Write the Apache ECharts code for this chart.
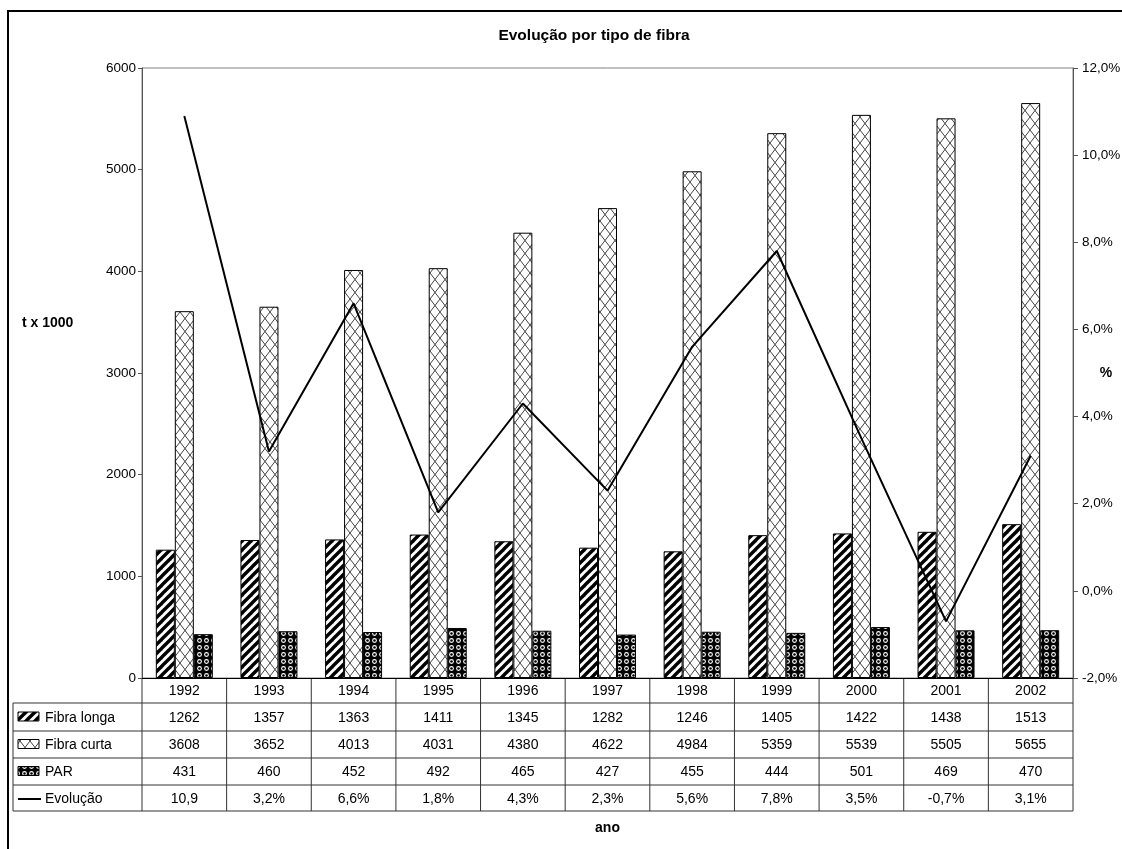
<!DOCTYPE html>
<html><head><meta charset="utf-8">
<script src="https://cdn.jsdelivr.net/npm/echarts@6/dist/echarts.min.js"></script>
<style>html,body{margin:0;padding:0;background:#fff}#c{width:1122px;height:849px}</style>
</head><body><div id="c"></div>
<script>
const years = ['1992','1993','1994','1995','1996','1997','1998','1999','2000','2001','2002'];
const fibraLonga = [1262,1357,1363,1411,1345,1282,1246,1405,1422,1438,1513];
const fibraCurta = [3608,3652,4013,4031,4380,4622,4984,5359,5539,5505,5655];
const par = [431,460,452,492,465,427,455,444,501,469,470];
const evolucao = [10.9,3.2,6.6,1.8,4.3,2.3,5.6,7.8,3.5,-0.7,3.1];
const evolucaoLabels = ['10,9','3,2%','6,6%','1,8%','4,3%','2,3%','5,6%','7,8%','3,5%','-0,7%','3,1%'];
const seriesNames = ['Fibra longa','Fibra curta','PAR','Evolução'];

const FONT = '"Liberation Sans", Arial, sans-serif';
const FS = 14;
const AFS = 13.5;

function mk(w,h){const c=document.createElement('canvas');c.width=w;c.height=h;return c;}
function stripes(){
  const c=mk(9,9),x=c.getContext('2d');
  x.fillStyle='#fff';x.fillRect(0,0,9,9);
  x.strokeStyle='#000';x.lineWidth=3.4;x.lineCap='square';
  [-9,0,9].forEach(o=>{x.beginPath();x.moveTo(o,9);x.lineTo(o+9,0);x.stroke();});
  return c;
}
function cross(){
  const c=mk(10,13),x=c.getContext('2d');
  x.fillStyle='#fff';x.fillRect(0,0,10,13);
  x.strokeStyle='#444';x.lineWidth=1;
  x.beginPath();x.moveTo(0,0);x.lineTo(10,13);x.moveTo(10,0);x.lineTo(0,13);x.stroke();
  return c;
}
function dots(){
  const c=mk(7,7),x=c.getContext('2d');
  x.fillStyle='#000';x.fillRect(0,0,7,7);
  x.fillStyle='#fff';x.beginPath();x.arc(3.5,3.5,2.4,0,Math.PI*2);x.fill();
  x.fillStyle='#000';x.beginPath();x.arc(3.5,3.5,1.3,0,Math.PI*2);x.fill();
  return c;
}
const patLonga={image:stripes(),repeat:'repeat'};
const patCurta={image:cross(),repeat:'repeat'};
const patPar={image:dots(),repeat:'repeat'};

const G={left:142,right:49,top:68,bottom:171};
const chart=echarts.init(document.getElementById('c'),null,{renderer:'canvas'});

const barItem=(p)=>({color:p,borderColor:'#000',borderWidth:1});
chart.setOption({
  animation:false,
  backgroundColor:'#fff',
  textStyle:{fontFamily:FONT},
  grid:{left:G.left,right:G.right,top:G.top,bottom:G.bottom,outerBoundsMode:'none',containLabel:false,show:true,borderColor:'#808080',borderWidth:1,backgroundColor:'transparent'},
  xAxis:{type:'category',data:years,axisLine:{lineStyle:{color:'#000',width:1}},axisTick:{show:false},
    axisLabel:{color:'#000',fontSize:FS,fontFamily:FONT,margin:6},splitLine:{show:false}},
  yAxis:[
    {type:'value',min:0,max:6000,interval:1000,splitLine:{show:false},
     axisLine:{show:true,lineStyle:{color:'#555'}},axisTick:{show:true,length:4,lineStyle:{color:'#555'}},
     axisLabel:{color:'#000',fontSize:AFS,fontFamily:FONT,margin:6,formatter:v=>String(v)}},
    {type:'value',min:-2,max:12,interval:2,position:'right',splitLine:{show:false},
     axisLine:{show:true,lineStyle:{color:'#555'}},axisTick:{show:true,length:5,lineStyle:{color:'#555'}},
     axisLabel:{color:'#000',fontSize:AFS,fontFamily:FONT,margin:9,formatter:v=>v.toFixed(1).replace('.',',')+'%'}}
  ],
  series:[
    {name:seriesNames[0],type:'bar',data:fibraLonga,barWidth:19,barGap:'0%',itemStyle:barItem(patLonga)},
    {name:seriesNames[1],type:'bar',data:fibraCurta,barWidth:19,barGap:'0%',itemStyle:barItem(patCurta)},
    {name:seriesNames[2],type:'bar',data:par,barWidth:19,barGap:'0%',itemStyle:barItem(patPar)},
    {name:seriesNames[3],type:'line',yAxisIndex:1,data:evolucao,symbol:'none',lineStyle:{color:'#000',width:2},z:5}
  ]
});

// Data table built from the arrays, positioned via the axis scale
const rect=chart.getModel().getComponent('grid',0).coordinateSystem.getRect();
const plotL=rect.x, plotR=rect.x+rect.width, axisY=rect.y+rect.height;
const rowTops=[703,731,758,785,811];
const tableL=13;
const cw=(plotR-plotL)/years.length;
const g=[];
const line=(x1,y1,x2,y2,c,w)=>g.push({type:'line',shape:{x1,y1,x2,y2},style:{stroke:c||'#333',lineWidth:w||1},silent:true});
rowTops.forEach(y=>line(tableL,y,plotR,y));
for(let i=0;i<=years.length;i++){
  const x=plotL+i*cw; line(x,axisY,x,rowTops[4]);
}
line(tableL,rowTops[0],tableL,rowTops[4]);
const rows=[fibraLonga.map(String),fibraCurta.map(String),par.map(String),evolucaoLabels];
rows.forEach((vals,r)=>{
  const cy=(rowTops[r]+rowTops[r+1])/2+1;
  vals.forEach((v,i)=>{
    const cx=chart.convertToPixel({xAxisIndex:0},i);
    g.push({type:'text',x:cx,y:cy,style:{text:v,font:FS+'px '+FONT,fill:'#000',textAlign:'center',textVerticalAlign:'middle'},silent:true});
  });
  g.push({type:'text',x:45,y:cy,style:{text:seriesNames[r],font:FS+'px '+FONT,fill:'#000',textAlign:'left',textVerticalAlign:'middle'},silent:true});
});
[patLonga,patCurta,patPar].forEach((p,r)=>{
  const cy=(rowTops[r]+rowTops[r+1])/2;
  g.push({type:'rect',shape:{x:18,y:cy-5,width:21,height:9},style:{fill:p,stroke:'#000',lineWidth:1},silent:true});
});
{const cy=(rowTops[3]+rowTops[4])/2+1; line(18,cy,41,cy,'#000',2);}
g.push({type:'text',x:594,y:36,style:{text:'Evolução por tipo de fibra',font:'bold 15.5px '+FONT,fill:'#000',textAlign:'center',textVerticalAlign:'middle'}});
g.push({type:'text',x:22,y:323,style:{text:'t x 1000',font:'bold 14px '+FONT,fill:'#000',textAlign:'left',textVerticalAlign:'middle'}});
g.push({type:'text',x:1106,y:373,style:{text:'%',font:'bold 14px '+FONT,fill:'#000',textAlign:'center',textVerticalAlign:'middle'}});
g.push({type:'text',x:(plotL+plotR)/2,y:828,style:{text:'ano',font:'bold 14px '+FONT,fill:'#000',textAlign:'center',textVerticalAlign:'middle'}});
g.push({type:'rect',shape:{x:8,y:11,width:1200,height:900},style:{fill:'none',stroke:'#000',lineWidth:2},silent:true});
chart.setOption({graphic:g});
</script></body></html>
